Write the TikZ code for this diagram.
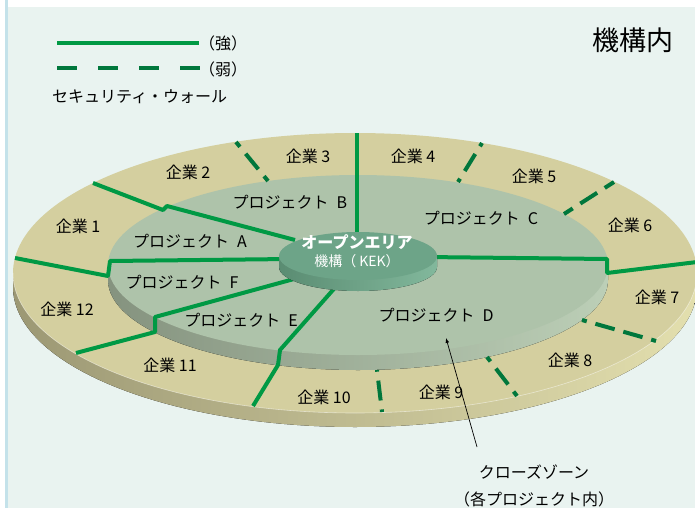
\documentclass[tikz,border=0pt]{standalone}
\usepackage{fontspec}
\setmainfont{Noto Sans CJK JP}
\definecolor{bgMint}{HTML}{E9F3F0}
\definecolor{edgeBlue}{HTML}{C4E2EA}
\definecolor{ringTop}{HTML}{D4CF9F}
\definecolor{ringSideL}{HTML}{9C9874}
\definecolor{ringSideR}{HTML}{E3DFAE}
\definecolor{projTop}{HTML}{AEC3AA}
\definecolor{projSideL}{HTML}{85937F}
\definecolor{projSideR}{HTML}{BCCFB7}
\definecolor{hubTop}{HTML}{6DA488}
\definecolor{hubSideL}{HTML}{5A8C72}
\definecolor{hubSideR}{HTML}{82B89C}
\definecolor{wStrong}{HTML}{009944}
\definecolor{wWeak}{HTML}{00773C}

\begin{document}
\begin{tikzpicture}[yscale=-1,x=1pt,y=1pt,>=latex]
		\tikzstyle{wallStrong} = [draw=wStrong, line width=4pt, line join=bevel]
		\tikzstyle{wallWeak} = [draw=wWeak, line width=4pt, dash pattern=on 20pt off 9pt]
		\tikzstyle{firm} = [inner sep=0pt, font=\fontsize{16}{19}\selectfont]
		\tikzstyle{proj} = [firm]
		\tikzstyle{note} = [firm]
		\tikzstyle{hubtext} = [inner sep=0pt, text=white]

		\clip (0,0) rectangle (695,508);
		\fill[white] (0,0) rectangle (695,508);
		\fill[bgMint] (8,7) rectangle (695,508);
		\fill[edgeBlue] (5,0) rectangle (8,508);

		% company ring
		\fill[left color=ringSideL, right color=ringSideR] (697,273) -- ++(0,14) arc[start angle=0, end angle=180, x radius=342, y radius=140] -- ++(0,-14) -- cycle;
		\fill[ringTop] (355,273) ellipse[x radius=342, y radius=140];
		\draw[white, opacity=0.5, line width=0.6pt] (697,273) arc[start angle=0, end angle=180, x radius=342, y radius=140];

		% project disc
		\fill[left color=projSideL, right color=projSideR] (608,265) -- ++(0,15) arc[start angle=0, end angle=180, x radius=250, y radius=90] -- ++(0,-15) -- cycle;
		\fill[projTop] (358,265) ellipse[x radius=250, y radius=90];

		% walls
		\draw[wallStrong] (357,133) -- (357,245);
		\draw[wallStrong] (93,183) -- (163,210) -- (167,206) -- (295,240);
		\draw[wallStrong] (15,258) -- (108,276) -- (110,261) -- (290,259);
		\draw[wallStrong] (76,353) -- (155,332) -- (155,317) -- (305,276);
		\draw[wallStrong] (253,406) -- (278,365) -- (280,350) -- (340,282);
		\draw[wallStrong] (697,262) -- (607,273) -- (607,259) -- (425,257);

		\draw[wallWeak, dash phase=13.8pt] (236,142) -- (268,181);
		\draw[wallWeak, dash phase=16.1pt] (482,143) -- (458,182);
		\draw[wallWeak, dash phase=9pt] (614,182) -- (564,214);
		\draw[wallWeak, dash phase=15pt] (656,341) -- (582,320);
		\draw[wallWeak, dash phase=14.4pt] (517,396) -- (487,357);
		\draw[wallWeak, dash phase=17.4pt] (382,412) -- (377,370);

		% open area
		\fill[left color=hubSideL, right color=hubSideR] (437,256) -- ++(0,11) arc[start angle=0, end angle=180, x radius=79, y radius=24] -- ++(0,-11) -- cycle;
		\fill[hubTop] (358,256) ellipse[x radius=79, y radius=24];
		\node[hubtext, font=\fontsize{16}{19}\selectfont\bfseries] (open) at (357,242) {オープンエリア};
		\node[hubtext, font=\fontsize{14}{17}\selectfont] (kek) at (357,261) {機構（ KEK）};

		% legend
		\coordinate (sA) at (57,43);
		\coordinate (sB) at (199,43);
		\coordinate (wA) at (57,68);
		\coordinate (wB) at (200,68);
		\draw[wallStrong] (sA) -- (sB);
		\draw[wallWeak, dash pattern=on 20pt off 21pt] (wA) -- (wB);
		\node[note, anchor=west] (strongTxt) at (199,43) {（強）};
		\node[note, anchor=west] (weakTxt) at (199,69) {（弱）};
		\node[note, anchor=west] (wallTxt) at (52,97) {セキュリティ・ウォール};
		\node[inner sep=0pt, font=\fontsize{27}{30}\selectfont] (inside) at (633,40) {機構内};

		% companies
		\node[firm] (c1) at (78,226) {企業 1};
		\node[firm] (c2) at (188,172) {企業 2};
		\node[firm] (c3) at (308,156) {企業 3};
		\node[firm] (c4) at (413,156) {企業 4};
		\node[firm] (c5) at (534,176) {企業 5};
		\node[firm] (c6) at (630,225) {企業 6};
		\node[firm] (c7) at (657,297) {企業 7};
		\node[firm] (c8) at (570,360) {企業 8};
		\node[firm] (c9) at (441,392) {企業 9};
		\node[firm] (c10) at (324,397) {企業 10};
		\node[firm] (c11) at (170,365) {企業 11};
		\node[firm] (c12) at (67,309) {企業 12};

		% projects
		\node[proj] (pA) at (190,241) {プロジェクト\enspace A};
		\node[proj] (pB) at (290,202) {プロジェクト\enspace B};
		\node[proj] (pC) at (481,218) {プロジェクト\enspace C};
		\node[proj] (pD) at (436,315) {プロジェクト\enspace D};
		\node[proj] (pE) at (241,320) {プロジェクト\enspace E};
		\node[proj] (pF) at (182,282) {プロジェクト\enspace F};

		% closed zone
		\node[note, align=center, font=\fontsize{16}{27}\selectfont] (zone) at (534,486) {クローズゾーン\\（各プロジェクト内）};
		\coordinate (zoneTail) at (477,447);
		\coordinate (zoneTip) at (446,338);
		\draw[->, line width=0.7pt] (zoneTail) -- (zoneTip);
\end{tikzpicture}
\end{document}
